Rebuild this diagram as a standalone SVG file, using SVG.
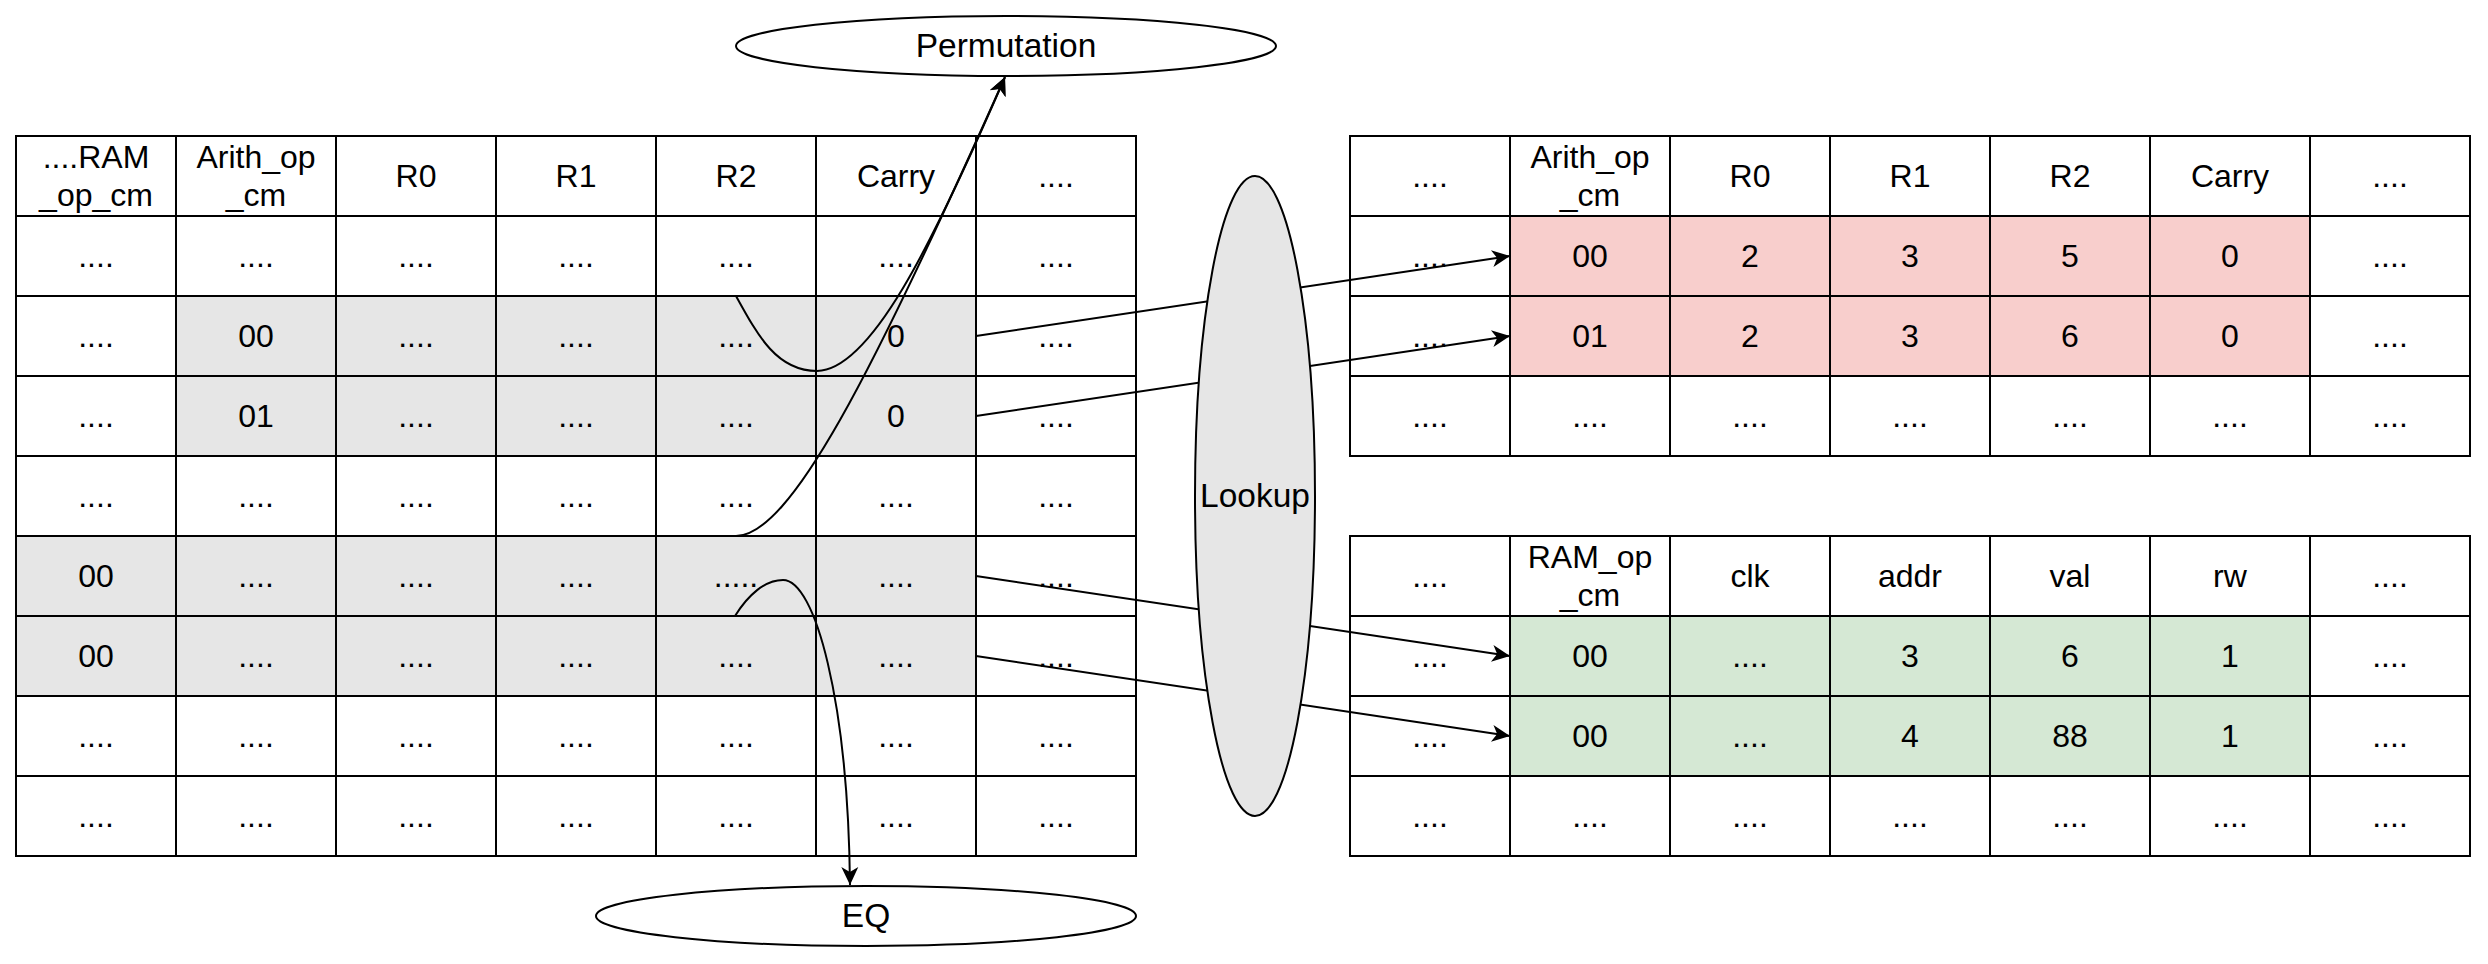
<svg xmlns="http://www.w3.org/2000/svg" width="2488" height="964" viewBox="0 0 2488 964">
<style>
rect{stroke:#000;stroke-width:2;width:160px;height:80px}
.w{fill:#fff}.g{fill:#E6E6E6}.p{fill:#F8CECC}.n{fill:#D5E8D4}
text{font-family:"Liberation Sans",Arial,sans-serif;font-size:32px;text-anchor:middle;fill:#000}
.big{font-size:33.5px}
.el{stroke:#000;stroke-width:2}
.ln{fill:none;stroke:#000;stroke-width:2}
</style>
<defs>
<marker id="arr" viewBox="-20 -10 22 20" refX="0" refY="0" markerWidth="22" markerHeight="20" markerUnits="userSpaceOnUse" orient="auto">
<path d="M0,0 L-18,-8.5 L-13,0 L-18,8.5 Z" fill="#000"/>
</marker>
</defs>
<rect x="0" y="0" width="2488" height="964" style="width:2488px;height:964px;fill:#fff;stroke:none"/>

<g id="table-main">
<!-- row 0 header -->
<rect class="w" x="16" y="136" width="160" height="80"/><rect class="w" x="176" y="136" width="160" height="80"/><rect class="w" x="336" y="136" width="160" height="80"/><rect class="w" x="496" y="136" width="160" height="80"/><rect class="w" x="656" y="136" width="160" height="80"/><rect class="w" x="816" y="136" width="160" height="80"/><rect class="w" x="976" y="136" width="160" height="80"/>
<text x="96" y="168">....RAM</text><text x="96" y="206">_op_cm</text>
<text x="256" y="168">Arith_op</text><text x="256" y="206">_cm</text>
<text x="416" y="187">R0</text><text x="576" y="187">R1</text><text x="736" y="187">R2</text><text x="896" y="187">Carry</text><text x="1056" y="187">....</text>
<!-- row 1 -->
<rect class="w" x="16" y="216" width="160" height="80"/><rect class="w" x="176" y="216" width="160" height="80"/><rect class="w" x="336" y="216" width="160" height="80"/><rect class="w" x="496" y="216" width="160" height="80"/><rect class="w" x="656" y="216" width="160" height="80"/><rect class="w" x="816" y="216" width="160" height="80"/><rect class="w" x="976" y="216" width="160" height="80"/>
<text x="96" y="267">....</text><text x="256" y="267">....</text><text x="416" y="267">....</text><text x="576" y="267">....</text><text x="736" y="267">....</text><text x="896" y="267">....</text><text x="1056" y="267">....</text>
<!-- row 2 -->
<rect class="w" x="16" y="296" width="160" height="80"/><rect class="g" x="176" y="296" width="160" height="80"/><rect class="g" x="336" y="296" width="160" height="80"/><rect class="g" x="496" y="296" width="160" height="80"/><rect class="g" x="656" y="296" width="160" height="80"/><rect class="g" x="816" y="296" width="160" height="80"/><rect class="w" x="976" y="296" width="160" height="80"/>
<text x="96" y="347">....</text><text x="256" y="347">00</text><text x="416" y="347">....</text><text x="576" y="347">....</text><text x="736" y="347">....</text><text x="896" y="347">0</text><text x="1056" y="347">....</text>
<!-- row 3 -->
<rect class="w" x="16" y="376" width="160" height="80"/><rect class="g" x="176" y="376" width="160" height="80"/><rect class="g" x="336" y="376" width="160" height="80"/><rect class="g" x="496" y="376" width="160" height="80"/><rect class="g" x="656" y="376" width="160" height="80"/><rect class="g" x="816" y="376" width="160" height="80"/><rect class="w" x="976" y="376" width="160" height="80"/>
<text x="96" y="427">....</text><text x="256" y="427">01</text><text x="416" y="427">....</text><text x="576" y="427">....</text><text x="736" y="427">....</text><text x="896" y="427">0</text><text x="1056" y="427">....</text>
<!-- row 4 -->
<rect class="w" x="16" y="456" width="160" height="80"/><rect class="w" x="176" y="456" width="160" height="80"/><rect class="w" x="336" y="456" width="160" height="80"/><rect class="w" x="496" y="456" width="160" height="80"/><rect class="w" x="656" y="456" width="160" height="80"/><rect class="w" x="816" y="456" width="160" height="80"/><rect class="w" x="976" y="456" width="160" height="80"/>
<text x="96" y="507">....</text><text x="256" y="507">....</text><text x="416" y="507">....</text><text x="576" y="507">....</text><text x="736" y="507">....</text><text x="896" y="507">....</text><text x="1056" y="507">....</text>
<!-- row 5 -->
<rect class="g" x="16" y="536" width="160" height="80"/><rect class="g" x="176" y="536" width="160" height="80"/><rect class="g" x="336" y="536" width="160" height="80"/><rect class="g" x="496" y="536" width="160" height="80"/><rect class="g" x="656" y="536" width="160" height="80"/><rect class="g" x="816" y="536" width="160" height="80"/><rect class="w" x="976" y="536" width="160" height="80"/>
<text x="96" y="587">00</text><text x="256" y="587">....</text><text x="416" y="587">....</text><text x="576" y="587">....</text><text x="736" y="587">.....</text><text x="896" y="587">....</text><text x="1056" y="587">....</text>
<!-- row 6 -->
<rect class="g" x="16" y="616" width="160" height="80"/><rect class="g" x="176" y="616" width="160" height="80"/><rect class="g" x="336" y="616" width="160" height="80"/><rect class="g" x="496" y="616" width="160" height="80"/><rect class="g" x="656" y="616" width="160" height="80"/><rect class="g" x="816" y="616" width="160" height="80"/><rect class="w" x="976" y="616" width="160" height="80"/>
<text x="96" y="667">00</text><text x="256" y="667">....</text><text x="416" y="667">....</text><text x="576" y="667">....</text><text x="736" y="667">....</text><text x="896" y="667">....</text><text x="1056" y="667">....</text>
<!-- row 7 -->
<rect class="w" x="16" y="696" width="160" height="80"/><rect class="w" x="176" y="696" width="160" height="80"/><rect class="w" x="336" y="696" width="160" height="80"/><rect class="w" x="496" y="696" width="160" height="80"/><rect class="w" x="656" y="696" width="160" height="80"/><rect class="w" x="816" y="696" width="160" height="80"/><rect class="w" x="976" y="696" width="160" height="80"/>
<text x="96" y="747">....</text><text x="256" y="747">....</text><text x="416" y="747">....</text><text x="576" y="747">....</text><text x="736" y="747">....</text><text x="896" y="747">....</text><text x="1056" y="747">....</text>
<!-- row 8 -->
<rect class="w" x="16" y="776" width="160" height="80"/><rect class="w" x="176" y="776" width="160" height="80"/><rect class="w" x="336" y="776" width="160" height="80"/><rect class="w" x="496" y="776" width="160" height="80"/><rect class="w" x="656" y="776" width="160" height="80"/><rect class="w" x="816" y="776" width="160" height="80"/><rect class="w" x="976" y="776" width="160" height="80"/>
<text x="96" y="827">....</text><text x="256" y="827">....</text><text x="416" y="827">....</text><text x="576" y="827">....</text><text x="736" y="827">....</text><text x="896" y="827">....</text><text x="1056" y="827">....</text>
</g>

<g id="table-arith">
<rect class="w" x="1350" y="136" width="160" height="80"/><rect class="w" x="1510" y="136" width="160" height="80"/><rect class="w" x="1670" y="136" width="160" height="80"/><rect class="w" x="1830" y="136" width="160" height="80"/><rect class="w" x="1990" y="136" width="160" height="80"/><rect class="w" x="2150" y="136" width="160" height="80"/><rect class="w" x="2310" y="136" width="160" height="80"/>
<text x="1430" y="187">....</text><text x="1590" y="168">Arith_op</text><text x="1590" y="206">_cm</text><text x="1750" y="187">R0</text><text x="1910" y="187">R1</text><text x="2070" y="187">R2</text><text x="2230" y="187">Carry</text><text x="2390" y="187">....</text>
<rect class="w" x="1350" y="216" width="160" height="80"/><rect class="p" x="1510" y="216" width="160" height="80"/><rect class="p" x="1670" y="216" width="160" height="80"/><rect class="p" x="1830" y="216" width="160" height="80"/><rect class="p" x="1990" y="216" width="160" height="80"/><rect class="p" x="2150" y="216" width="160" height="80"/><rect class="w" x="2310" y="216" width="160" height="80"/>
<text x="1430" y="267">....</text><text x="1590" y="267">00</text><text x="1750" y="267">2</text><text x="1910" y="267">3</text><text x="2070" y="267">5</text><text x="2230" y="267">0</text><text x="2390" y="267">....</text>
<rect class="w" x="1350" y="296" width="160" height="80"/><rect class="p" x="1510" y="296" width="160" height="80"/><rect class="p" x="1670" y="296" width="160" height="80"/><rect class="p" x="1830" y="296" width="160" height="80"/><rect class="p" x="1990" y="296" width="160" height="80"/><rect class="p" x="2150" y="296" width="160" height="80"/><rect class="w" x="2310" y="296" width="160" height="80"/>
<text x="1430" y="347">....</text><text x="1590" y="347">01</text><text x="1750" y="347">2</text><text x="1910" y="347">3</text><text x="2070" y="347">6</text><text x="2230" y="347">0</text><text x="2390" y="347">....</text>
<rect class="w" x="1350" y="376" width="160" height="80"/><rect class="w" x="1510" y="376" width="160" height="80"/><rect class="w" x="1670" y="376" width="160" height="80"/><rect class="w" x="1830" y="376" width="160" height="80"/><rect class="w" x="1990" y="376" width="160" height="80"/><rect class="w" x="2150" y="376" width="160" height="80"/><rect class="w" x="2310" y="376" width="160" height="80"/>
<text x="1430" y="427">....</text><text x="1590" y="427">....</text><text x="1750" y="427">....</text><text x="1910" y="427">....</text><text x="2070" y="427">....</text><text x="2230" y="427">....</text><text x="2390" y="427">....</text>
</g>

<g id="table-ram">
<rect class="w" x="1350" y="536" width="160" height="80"/><rect class="w" x="1510" y="536" width="160" height="80"/><rect class="w" x="1670" y="536" width="160" height="80"/><rect class="w" x="1830" y="536" width="160" height="80"/><rect class="w" x="1990" y="536" width="160" height="80"/><rect class="w" x="2150" y="536" width="160" height="80"/><rect class="w" x="2310" y="536" width="160" height="80"/>
<text x="1430" y="587">....</text><text x="1590" y="568">RAM_op</text><text x="1590" y="606">_cm</text><text x="1750" y="587">clk</text><text x="1910" y="587">addr</text><text x="2070" y="587">val</text><text x="2230" y="587">rw</text><text x="2390" y="587">....</text>
<rect class="w" x="1350" y="616" width="160" height="80"/><rect class="n" x="1510" y="616" width="160" height="80"/><rect class="n" x="1670" y="616" width="160" height="80"/><rect class="n" x="1830" y="616" width="160" height="80"/><rect class="n" x="1990" y="616" width="160" height="80"/><rect class="n" x="2150" y="616" width="160" height="80"/><rect class="w" x="2310" y="616" width="160" height="80"/>
<text x="1430" y="667">....</text><text x="1590" y="667">00</text><text x="1750" y="667">....</text><text x="1910" y="667">3</text><text x="2070" y="667">6</text><text x="2230" y="667">1</text><text x="2390" y="667">....</text>
<rect class="w" x="1350" y="696" width="160" height="80"/><rect class="n" x="1510" y="696" width="160" height="80"/><rect class="n" x="1670" y="696" width="160" height="80"/><rect class="n" x="1830" y="696" width="160" height="80"/><rect class="n" x="1990" y="696" width="160" height="80"/><rect class="n" x="2150" y="696" width="160" height="80"/><rect class="w" x="2310" y="696" width="160" height="80"/>
<text x="1430" y="747">....</text><text x="1590" y="747">00</text><text x="1750" y="747">....</text><text x="1910" y="747">4</text><text x="2070" y="747">88</text><text x="2230" y="747">1</text><text x="2390" y="747">....</text>
<rect class="w" x="1350" y="776" width="160" height="80"/><rect class="w" x="1510" y="776" width="160" height="80"/><rect class="w" x="1670" y="776" width="160" height="80"/><rect class="w" x="1830" y="776" width="160" height="80"/><rect class="w" x="1990" y="776" width="160" height="80"/><rect class="w" x="2150" y="776" width="160" height="80"/><rect class="w" x="2310" y="776" width="160" height="80"/>
<text x="1430" y="827">....</text><text x="1590" y="827">....</text><text x="1750" y="827">....</text><text x="1910" y="827">....</text><text x="2070" y="827">....</text><text x="2230" y="827">....</text><text x="2390" y="827">....</text>
</g>

<g id="connectors">
<path class="ln" d="M976,336 L1510,256" marker-end="url(#arr)"/>
<path class="ln" d="M976,416 L1510,336" marker-end="url(#arr)"/>
<path class="ln" d="M976,576 L1510,656" marker-end="url(#arr)"/>
<path class="ln" d="M976,656 L1510,736" marker-end="url(#arr)"/>
<path class="ln" d="M736,296 C758,336 777,371 817,371 C870,370 930,250 1005,77" marker-end="url(#arr)"/>
<path class="ln" d="M736,536 C790,535 870,380 1005,77" marker-end="url(#arr)"/>
<path class="ln" d="M735,616 C748,595 765,580 783,580 C815,580 848,700 850,885" marker-end="url(#arr)"/>
</g>

<g id="permutation">
<ellipse class="el" cx="1006" cy="46" rx="270" ry="30" fill="#fff"/>
<text class="big" x="1006" y="57">Permutation</text>
</g>
<g id="eq">
<ellipse class="el" cx="866" cy="916" rx="270" ry="30" fill="#fff"/>
<text class="big" x="866" y="927">EQ</text>
</g>
<g id="lookup">
<ellipse class="el" cx="1255" cy="496" rx="60" ry="320" fill="#E6E6E6"/>
<text class="big" x="1255" y="507">Lookup</text>
</g>
</svg>
